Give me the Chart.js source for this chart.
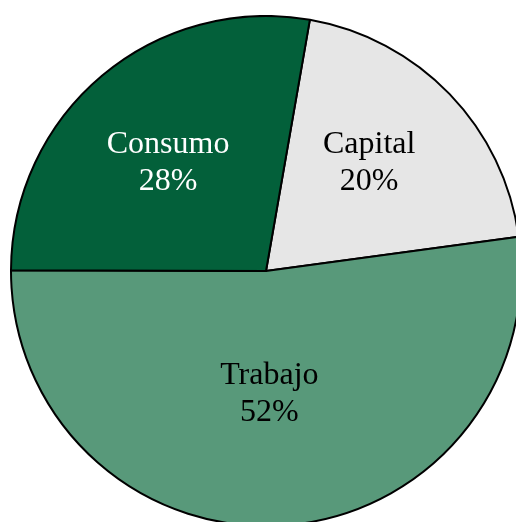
<!DOCTYPE html>
<html>
<head>
<meta charset="utf-8">
<script src="https://cdn.jsdelivr.net/npm/chart.js@4"></script>
<style>
  html, body { margin:0; padding:0; width:516px; height:522px; overflow:hidden; background:#fff; }
  #wrap { position:absolute; left:10px; top:15px; width:512px; height:512px; }
</style>
</head>
<body>
<div id="wrap"><canvas id="pieChart"></canvas></div>
<script>
const labels = ['Capital', 'Trabajo', 'Consumo'];
const values = [20.1, 52.2, 27.7];
const colors = ['#e6e6e6', '#58997a', '#03603a'];
const textColors = ['#000', '#000', '#fff'];
// label placement: fraction of radius and angle tweak (degrees) per slice
const labelDist = [0.586, 0.48, 0.572];
const labelTurn = [-2.4, 2.2, -2.2];

const sliceLabelPlugin = {
  id: 'sliceLabelPlugin',
  afterDatasetsDraw(chart) {
    const { ctx } = chart;
    const meta = chart.getDatasetMeta(0);
    const total = values.reduce((a, b) => a + b, 0);
    ctx.save();
    ctx.font = '32px "Liberation Serif", "Times New Roman", serif';
    ctx.textAlign = 'center';
    ctx.textBaseline = 'middle';
    meta.data.forEach((arc, i) => {
      const mid = (arc.startAngle + arc.endAngle) / 2 + labelTurn[i] * Math.PI / 180;
      const d = arc.outerRadius * labelDist[i];
      const x = arc.x + Math.cos(mid) * d;
      const y = arc.y + Math.sin(mid) * d;
      ctx.fillStyle = textColors[i];
      ctx.fillText(labels[i], x, y - 18);
      ctx.fillText(Math.round(values[i] / total * 100) + '%', x, y + 19);
    });
    ctx.restore();
  }
};

new Chart(document.getElementById('pieChart'), {
  type: 'pie',
  data: {
    labels,
    datasets: [{
      data: values,
      backgroundColor: colors,
      borderColor: '#000',
      borderWidth: 2
    }]
  },
  options: {
    responsive: true,
    maintainAspectRatio: false,
    animation: false,
    rotation: 9.9,
    layout: { padding: 0 },
    plugins: {
      legend: { display: false },
      tooltip: { enabled: false }
    }
  },
  plugins: [sliceLabelPlugin]
});
</script>
</body>
</html>
